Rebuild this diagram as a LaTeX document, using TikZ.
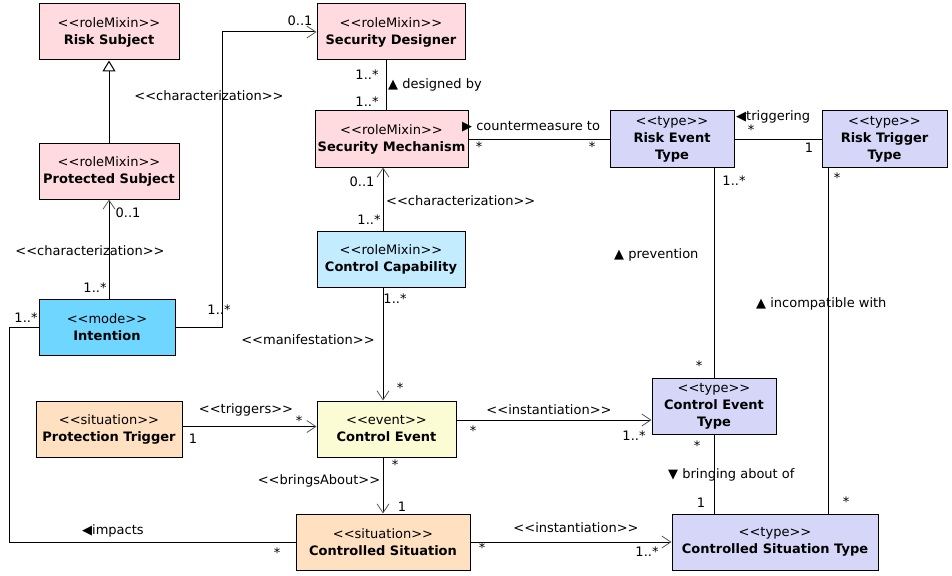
\documentclass[tikz,border=0pt]{standalone}
\usepackage{fontspec}
\setmainfont{DejaVu Sans}[Ligatures=TeXOff]
\usetikzlibrary{arrows.meta}

\definecolor{rolepink}{RGB}{255,219,223}
\definecolor{capblue}{RGB}{196,236,255}
\definecolor{modeblue}{RGB}{110,214,255}
\definecolor{typeviolet}{RGB}{214,214,248}
\definecolor{sitpeach}{RGB}{255,224,192}
\definecolor{eventyellow}{RGB}{251,251,212}

\begin{document}
\begin{tikzpicture}[x=1pt,y=-1pt,
    font=\fontsize{13}{17}\selectfont,
    box/.style={draw, line width=1pt, minimum height=56pt, align=center, inner sep=0pt},
    rolemixin/.style={box, fill=rolepink},
    capbox/.style={box, fill=capblue},
    modebox/.style={box, fill=modeblue},
    typebox/.style={box, fill=typeviolet},
    sitbox/.style={box, fill=sitpeach},
    eventbox/.style={box, fill=eventyellow},
    lbl/.style={inner sep=0pt, font=\fontsize{13}{15}\selectfont},
    plain/.style={line width=1pt},
    assoc/.style={line width=1pt, -{Straight Barb[length=9pt,width=12pt,line width=0.8pt,color=black!65]}},
    gen/.style={line width=1pt, -{Triangle[open,length=11pt,width=13pt,line width=1pt,fill=white]}}]
    \useasboundingbox (0,0) rectangle (952,575);

    % classes
    \node[rolemixin, minimum width=140pt] (rs) at (109,32) {<<roleMixin>>\\\textbf{Risk Subject}};
    \node[rolemixin, minimum width=148pt] (sd) at (391,32) {<<roleMixin>>\\\textbf{Security Designer}};
    \node[rolemixin, minimum width=153pt] (sm) at (391.5,139) {<<roleMixin>>\\\textbf{Security Mechanism}};
    \node[rolemixin, minimum width=140pt] (ps) at (109,171) {<<roleMixin>>\\\textbf{Protected Subject}};
    \node[modebox, minimum width=136pt] (int) at (107,327) {<<mode>>\\\textbf{Intention}};
    \node[capbox, minimum width=148pt] (cc) at (391,259) {<<roleMixin>>\\\textbf{Control Capability}};
    \node[typebox, minimum width=124pt] (ret) at (672,139) {<<type>>\\\textbf{Risk Event}\\\textbf{Type}};
    \node[typebox, minimum width=125pt] (rtt) at (884.5,139) {<<type>>\\\textbf{Risk Trigger}\\\textbf{Type}};
    \node[typebox, minimum width=124pt] (cet) at (714,406) {<<type>>\\\textbf{Control Event}\\\textbf{Type}};
    \node[typebox, minimum width=206pt] (cst) at (775,542) {<<type>>\\\textbf{Controlled Situation Type}};
    \node[sitbox, minimum width=146pt] (pt) at (109,429) {<<situation>>\\\textbf{Protection Trigger}};
    \node[eventbox, minimum width=139pt] (ce) at (386.5,429) {<<event>>\\\textbf{Control Event}};
    \node[sitbox, minimum width=174pt] (cs) at (383,542) {<<situation>>\\\textbf{Controlled Situation}};

    % relations
    \draw[gen] (ps) -- (rs);
    \draw[assoc] (int.north -| ps.south) -- (ps.south);
    \draw[assoc] (int.east) -- ++(47,0) |- (sd.west);
    \draw[plain] ([xshift=-5pt]sd.south) -- ([xshift=-5pt]sd.south |- sm.north);
    \draw[assoc] ([xshift=-8pt]cc.north) -- ([xshift=-8pt]cc.north |- sm.south);
    \draw[assoc] ([xshift=-8pt]cc.south) -- ([xshift=-8pt]cc.south |- ce.north);
    \draw[assoc] ([yshift=2.5pt]pt.east) -- ([yshift=2.5pt]pt.east -| ce.west);
    \draw[assoc] ([yshift=9pt]ce.east) -- ([yshift=9pt]ce.east -| cet.west);
    \draw[assoc] ([xshift=-3.5pt]ce.south) -- ([xshift=-3.5pt]ce.south |- cs.north);
    \draw[assoc] (cs.east) -- (cst.west);
    \draw[plain] (sm.east) -- (ret.west);
    \draw[plain] (ret.east) -- (rtt.west);
    \draw[plain] (cet.north |- ret.south) -- (cet.north);
    \draw[plain] (cet.south) -- (cet.south |- cst.north);
    \draw[plain] ([xshift=7pt]rtt.south west) -- ([xshift=7pt]rtt.south west |- cst.north);
    \draw[plain] (int.west) -- ++(-29,0) |- (cs.west);

    % labels
    \node[lbl] (l-ps-a) at (128,213) {0..1};
    \node[lbl] (l-ps-b) at (90,251) {<<characterization>>};
    \node[lbl] (l-ps-c) at (95,288) {1..*};
    \node[lbl] (l-sd-a) at (300,21) {0..1};
    \node[lbl] (l-sd-b) at (209,96) {<<characterization>>};
    \node[lbl] (l-sd-c) at (219,310) {1..*};
    \node[lbl] (l-db-a) at (367,75) {1..*};
    \node[lbl] (l-db-b) at (367,102) {1..*};
    \node[lbl, anchor=west] (l-db-c) at (388,85) {▲ designed by};
    \node[lbl] (l-cc-a) at (362,182) {0..1};
    \node[lbl] (l-cc-b) at (369,220) {1..*};
    \node[lbl, anchor=west] (l-cc-c) at (386,201) {<<characterization>>};
    \node[lbl] (l-mf-a) at (395,299) {1..*};
    \node[lbl] (l-mf-b) at (308,340) {<<manifestation>>};
    \node[lbl] (l-mf-c) at (400,388) {*};
    \node[lbl, anchor=west] (l-cm-a) at (462,127) {▶ countermeasure to};
    \node[lbl] (l-cm-b) at (479,147) {*};
    \node[lbl] (l-cm-c) at (592,147) {*};
    \node[lbl, anchor=west] (l-tr-a) at (736,117) {◀triggering};
    \node[lbl] (l-tr-b) at (751,130) {*};
    \node[lbl] (l-tr-c) at (809,148) {1};
    \node[lbl] (l-pv-a) at (734,181) {1..*};
    \node[lbl, anchor=west] (l-pv-b) at (614,255) {▲ prevention};
    \node[lbl] (l-pv-c) at (699,366) {*};
    \node[lbl] (l-ic-a) at (837,178) {*};
    \node[lbl, anchor=west] (l-ic-b) at (756,304) {▲ incompatible with};
    \node[lbl] (l-ic-c) at (846,502) {*};
    \node[lbl] (l-tg-a) at (246,410) {<<triggers>>};
    \node[lbl] (l-tg-b) at (299,421) {*};
    \node[lbl] (l-tg-c) at (193,439) {1};
    \node[lbl] (l-in-a) at (549,410) {<<instantiation>>};
    \node[lbl] (l-in-b) at (473,431) {*};
    \node[lbl] (l-in-c) at (634,436) {1..*};
    \node[lbl] (l-ba-a) at (395,465) {*};
    \node[lbl] (l-ba-b) at (319,481) {<<bringsAbout>>};
    \node[lbl] (l-ba-c) at (402,507) {1};
    \node[lbl] (l-bo-a) at (697,446) {*};
    \node[lbl, anchor=west] (l-bo-b) at (668,475) {▼ bringing about of};
    \node[lbl] (l-bo-c) at (701,503) {1};
    \node[lbl] (l-is-a) at (576,528) {<<instantiation>>};
    \node[lbl] (l-is-b) at (482,548) {*};
    \node[lbl] (l-is-c) at (647,552) {1..*};
    \node[lbl] (l-im-a) at (26,318) {1..*};
    \node[lbl, anchor=west] (l-im-b) at (82,531) {◀impacts};
    \node[lbl] (l-im-c) at (277,553) {*};
  \end{tikzpicture}
\end{document}
